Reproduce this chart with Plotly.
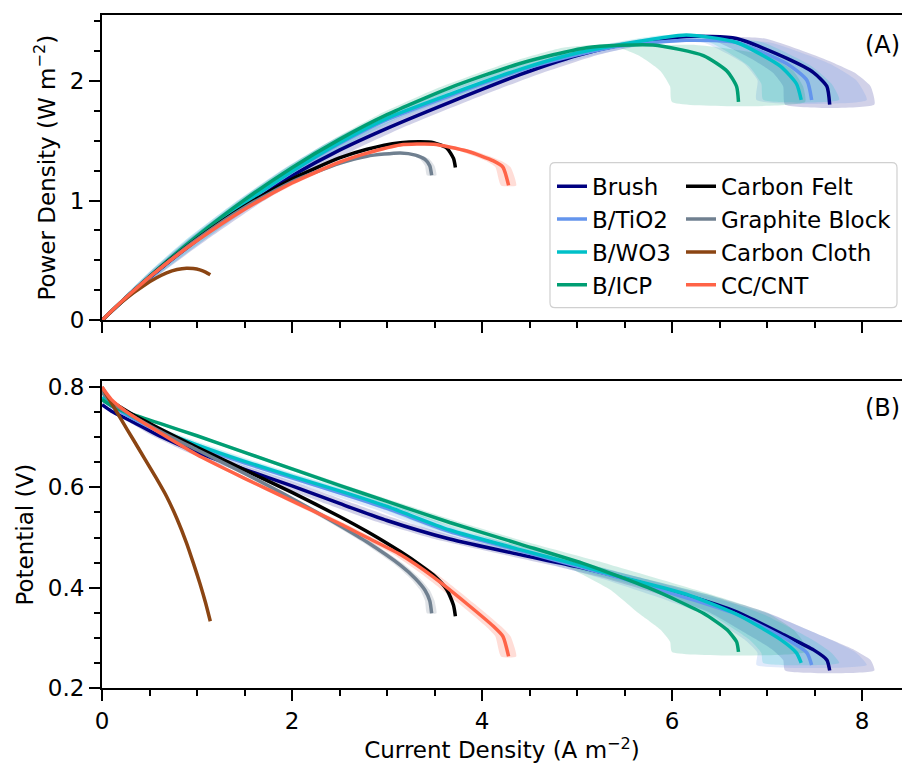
import plotly.graph_objects as go

# ---------------- data ----------------
names = ["Brush", "B/TiO2", "B/WO3", "B/ICP", "Carbon Felt", "Graphite Block", "Carbon Cloth", "CC/CNT"]
colors = ["#000080", "#6495ED", "#00C0C8", "#009E73", "#000000", "#708090", "#8B4513", "#FF6347"]
band_rgba = ["rgba(0,0,128,0.18)", "rgba(100,149,237,0.2)", "rgba(0,192,200,0.18)", "rgba(0,158,115,0.18)",
             "rgba(0,0,0,0.0)", "rgba(112,128,144,0.22)", "rgba(139,69,19,0.0)", "rgba(255,99,71,0.22)"]

# current density (A m-2), potential (V), power density (W m-2), spread of current density
brush_i = [0, 0.1, 0.3, 0.6, 1.0, 1.5, 2.0, 2.5, 3.0, 3.66, 4.4, 5.0, 5.45, 6.15, 6.68, 7.21, 7.49, 7.63, 7.66]
brush_v = [0.765, 0.752, 0.733, 0.703, 0.670, 0.636, 0.603, 0.568, 0.534, 0.497, 0.466, 0.442, 0.421, 0.385,
           0.352, 0.303, 0.276, 0.256, 0.235]
brush_p = [0, 0.075, 0.220, 0.422, 0.670, 0.954, 1.206, 1.420, 1.602, 1.819, 2.050, 2.210, 2.294, 2.368,
           2.351, 2.185, 2.067, 1.953, 1.800]
brush_e = [0, 0.02, 0.04, 0.07, 0.1, 0.12, 0.14, 0.15, 0.15, 0.16, 0.18, 0.2, 0.2, 0.25, 0.3, 0.38, 0.43, 0.46, 0.47]

tio2_i = [0, 0.1, 0.3, 0.6, 1.0, 1.5, 2.0, 2.5, 3.0, 3.66, 4.4, 5.0, 5.45, 6.15, 6.68, 7.21, 7.42, 7.47]
tio2_v = [0.775, 0.762, 0.740, 0.712, 0.682, 0.649, 0.619, 0.589, 0.558, 0.512, 0.474, 0.443, 0.420, 0.380,
          0.347, 0.297, 0.270, 0.246]
tio2_p = [0, 0.076, 0.222, 0.427, 0.682, 0.974, 1.238, 1.473, 1.674, 1.874, 2.086, 2.215, 2.289, 2.337,
          2.318, 2.141, 2.003, 1.838]
tio2_e = [0, 0.02, 0.04, 0.07, 0.1, 0.12, 0.14, 0.15, 0.15, 0.16, 0.18, 0.2, 0.22, 0.28, 0.35, 0.45, 0.52, 0.58]

wo3_i = [0, 0.1, 0.3, 0.6, 1.0, 1.5, 2.0, 2.5, 3.0, 3.66, 4.4, 5.0, 5.45, 6.15, 6.68, 7.14, 7.31, 7.36]
wo3_v = [0.780, 0.765, 0.743, 0.715, 0.685, 0.652, 0.622, 0.593, 0.562, 0.515, 0.476, 0.446, 0.422, 0.387,
         0.347, 0.297, 0.270, 0.250]
wo3_p = [0, 0.077, 0.223, 0.429, 0.685, 0.978, 1.244, 1.483, 1.686, 1.885, 2.094, 2.230, 2.300, 2.380,
         2.318, 2.121, 1.974, 1.840]
wo3_e = [0, 0.02, 0.04, 0.07, 0.1, 0.11, 0.12, 0.12, 0.12, 0.13, 0.14, 0.16, 0.18, 0.22, 0.28, 0.33, 0.37, 0.40]

icp_i = [0, 0.1, 0.3, 0.6, 1.0, 1.5, 2.0, 2.5, 3.0, 3.66, 4.4, 5.1, 5.8, 6.33, 6.58, 6.68, 6.70]
icp_v = [0.775, 0.763, 0.747, 0.728, 0.703, 0.670, 0.637, 0.604, 0.572, 0.530, 0.487, 0.446, 0.396, 0.349,
         0.316, 0.292, 0.272]
icp_p = [0, 0.076, 0.224, 0.437, 0.703, 1.005, 1.274, 1.510, 1.716, 1.940, 2.143, 2.275, 2.297, 2.209,
         2.079, 1.951, 1.822]
icp_e = [0, 0.01, 0.02, 0.03, 0.04, 0.05, 0.06, 0.07, 0.09, 0.12, 0.15, 0.25, 0.45, 0.68, 0.7, 0.7, 0.7]

felt_i = [0, 0.1, 0.3, 0.6, 1.0, 1.5, 2.0, 2.5, 2.79, 3.14, 3.35, 3.49, 3.63, 3.70, 3.72]
felt_v = [0.790, 0.772, 0.748, 0.718, 0.680, 0.635, 0.590, 0.542, 0.512, 0.472, 0.445, 0.425, 0.396, 0.365, 0.343]
felt_p = [0, 0.077, 0.224, 0.431, 0.680, 0.953, 1.180, 1.355, 1.428, 1.482, 1.491, 1.483, 1.437, 1.351, 1.276]
felt_e = [0] * 15

graph_i = [0, 0.1, 0.3, 0.6, 1.0, 1.5, 2.0, 2.5, 2.79, 3.14, 3.3, 3.4, 3.45, 3.47]
graph_v = [0.790, 0.770, 0.745, 0.713, 0.675, 0.628, 0.578, 0.524, 0.491, 0.445, 0.418, 0.395, 0.374, 0.349]
graph_p = [0, 0.077, 0.224, 0.428, 0.675, 0.942, 1.156, 1.310, 1.370, 1.397, 1.379, 1.343, 1.290, 1.211]
graph_e = [0, 0.01, 0.01, 0.02, 0.03, 0.03, 0.04, 0.05, 0.05, 0.05, 0.05, 0.05, 0.05, 0.05]

cloth_i = [0, 0.1, 0.2, 0.33, 0.45, 0.57, 0.68, 0.79, 0.89, 0.96, 1.03, 1.09, 1.14]
cloth_v = [0.800, 0.768, 0.736, 0.695, 0.657, 0.619, 0.582, 0.537, 0.489, 0.450, 0.409, 0.370, 0.333]
cloth_p = [0, 0.077, 0.147, 0.229, 0.296, 0.353, 0.396, 0.424, 0.435, 0.432, 0.421, 0.403, 0.380]
cloth_e = [0] * 13

cnt_i = [0, 0.1, 0.3, 0.6, 1.0, 1.5, 2.0, 2.5, 2.79, 3.14, 3.49, 3.84, 4.12, 4.22, 4.28]
cnt_v = [0.800, 0.775, 0.745, 0.710, 0.665, 0.618, 0.573, 0.528, 0.500, 0.466, 0.421, 0.368, 0.323, 0.303, 0.263]
cnt_p = [0, 0.078, 0.224, 0.426, 0.665, 0.927, 1.146, 1.320, 1.395, 1.463, 1.469, 1.413, 1.331, 1.279, 1.126]
cnt_e = [0, 0.01, 0.01, 0.02, 0.03, 0.04, 0.05, 0.06, 0.06, 0.07, 0.08, 0.08, 0.08, 0.08, 0.08]

x_ticks = [0, 2, 4, 6, 8]
pd_ticks = [0, 1, 2]
v_ticks = [0.2, 0.4, 0.6, 0.8]

series = [
    (brush_i, brush_v, brush_p, brush_e),
    (tio2_i, tio2_v, tio2_p, tio2_e),
    (wo3_i, wo3_v, wo3_p, wo3_e),
    (icp_i, icp_v, icp_p, icp_e),
    (felt_i, felt_v, felt_p, felt_e),
    (graph_i, graph_v, graph_p, graph_e),
    (cloth_i, cloth_v, cloth_p, cloth_e),
    (cnt_i, cnt_v, cnt_p, cnt_e),
]

FONT = "DejaVu Sans, Liberation Sans, sans-serif"
fig = go.Figure()

# error bands (horizontal spread in current density)
for k, (ci, cv, cp, ce) in enumerate(series):
    if max(ce) == 0:
        continue
    hi = [a + b for a, b in zip(ci, ce)]
    lo = [a - b for a, b in zip(ci, ce)]
    bx = hi + lo[::-1]
    for yv, xa, ya in ((cp, "x", "y"), (cv, "x2", "y2")):
        by = list(yv) + list(yv)[::-1]
        fig.add_trace(go.Scatter(x=bx, y=by, xaxis=xa, yaxis=ya,
                                 mode="lines", fill="toself", fillcolor=band_rgba[k],
                                 line=dict(width=0, shape="spline", smoothing=0.5),
                                 showlegend=False, hoverinfo="skip"))

# lines
for k, (ci, cv, cp, ce) in enumerate(series):
    leg = "legend" if k < 4 else "legend2"
    fig.add_trace(go.Scatter(x=ci, y=cp, xaxis="x", yaxis="y", mode="lines", name=names[k],
                             line=dict(color=colors[k], width=3.5, shape="spline", smoothing=0.6),
                             showlegend=True, legend=leg))
    fig.add_trace(go.Scatter(x=ci, y=cv, xaxis="x2", yaxis="y2", mode="lines", name=names[k],
                             line=dict(color=colors[k], width=3.5, shape="spline", smoothing=0.6),
                             showlegend=False))

W, H = 902, 767
ml, mr, mt, mb = 102, 0, 15, 79
ph = H - mt - mb
top_lo = (688.3 - 320.7) / ph
bot_hi = (688.3 - 381.7) / ph

axis_common = dict(showline=True, linecolor="black", linewidth=2, ticks="outside", ticklen=11,
                   tickwidth=2, tickcolor="black", showgrid=False, zeroline=False,
                   tickfont=dict(family=FONT, size=23, color="black"))
minor_x = dict(dtick=0.5, ticklen=6, tickwidth=1.5, ticks="outside", tickcolor="black")

fig.update_layout(
    width=W, height=H,
    margin=dict(l=ml, r=mr, t=mt, b=mb),
    paper_bgcolor="white", plot_bgcolor="white",
    font=dict(family=FONT, color="black"),
    xaxis=dict(domain=[0, 1], range=[0, 800 / 95], anchor="y", tickvals=x_ticks, showticklabels=False,
               mirror=True, minor=minor_x, **axis_common),
    yaxis=dict(domain=[top_lo, 1], range=[0, 305.7 / 120], anchor="x", tickvals=pd_ticks,
               minor=dict(dtick=0.25, ticklen=6, tickwidth=1.5, ticks="outside", tickcolor="black"),
               title=dict(text="Power Density (W m<sup>−2</sup>)", font=dict(family=FONT, size=23), standoff=8),
               **axis_common),
    xaxis2=dict(domain=[0, 1], range=[0, 800 / 95], anchor="y2", tickvals=x_ticks, mirror=True,
                minor=minor_x,
                title=dict(text="Current Density (A m<sup>−2</sup>)", font=dict(family=FONT, size=23), standoff=6),
                **axis_common),
    yaxis2=dict(domain=[0, bot_hi], range=[0.2, 0.2 + 306.6 / 501.5], anchor="x2", tickvals=v_ticks,
                tickformat=".1f",
                minor=dict(dtick=0.05, ticklen=6, tickwidth=1.5, ticks="outside", tickcolor="black"),
                title=dict(text="Potential (V)", font=dict(family=FONT, size=23), standoff=8),
                **axis_common),
    legend=dict(x=(552 - ml) / 800, y=(688.3 - 165) / ph, xanchor="left", yanchor="top",
                bgcolor="rgba(0,0,0,0)", borderwidth=0, tracegroupgap=0,
                font=dict(family=FONT, size=23, color="black"), itemwidth=30),
    legend2=dict(x=(681 - ml) / 800, y=(688.3 - 165) / ph, xanchor="left", yanchor="top",
                 bgcolor="rgba(0,0,0,0)", borderwidth=0, tracegroupgap=0,
                 font=dict(family=FONT, size=23, color="black"), itemwidth=30),
    annotations=[
        dict(text="(A)", x=(863 - ml) / 800, y=(688.3 - 45) / ph, xref="paper", yref="paper",
             xanchor="left", yanchor="middle", showarrow=False, font=dict(family=FONT, size=24, color="black")),
        dict(text="(B)", x=(863 - ml) / 800, y=(688.3 - 408) / ph, xref="paper", yref="paper",
             xanchor="left", yanchor="middle", showarrow=False, font=dict(family=FONT, size=24, color="black")),
    ],
)

# rounded legend frame
x0, x1 = (550 - ml) / 800, (897 - ml) / 800
y0, y1 = (688.3 - 308) / ph, (688.3 - 163) / ph
rx, ry = 5 / 800, 5 / ph
path = (f"M{x0+rx},{y1} L{x1-rx},{y1} Q{x1},{y1} {x1},{y1-ry} L{x1},{y0+ry} Q{x1},{y0} {x1-rx},{y0} "
        f"L{x0+rx},{y0} Q{x0},{y0} {x0},{y0+ry} L{x0},{y1-ry} Q{x0},{y1} {x0+rx},{y1} Z")
fig.add_shape(type="path", path=path, xref="paper", yref="paper",
              line=dict(color="#d0d0d0", width=1.2), fillcolor="rgba(255,255,255,0.8)", layer="above")

fig.write_html("out.html")
